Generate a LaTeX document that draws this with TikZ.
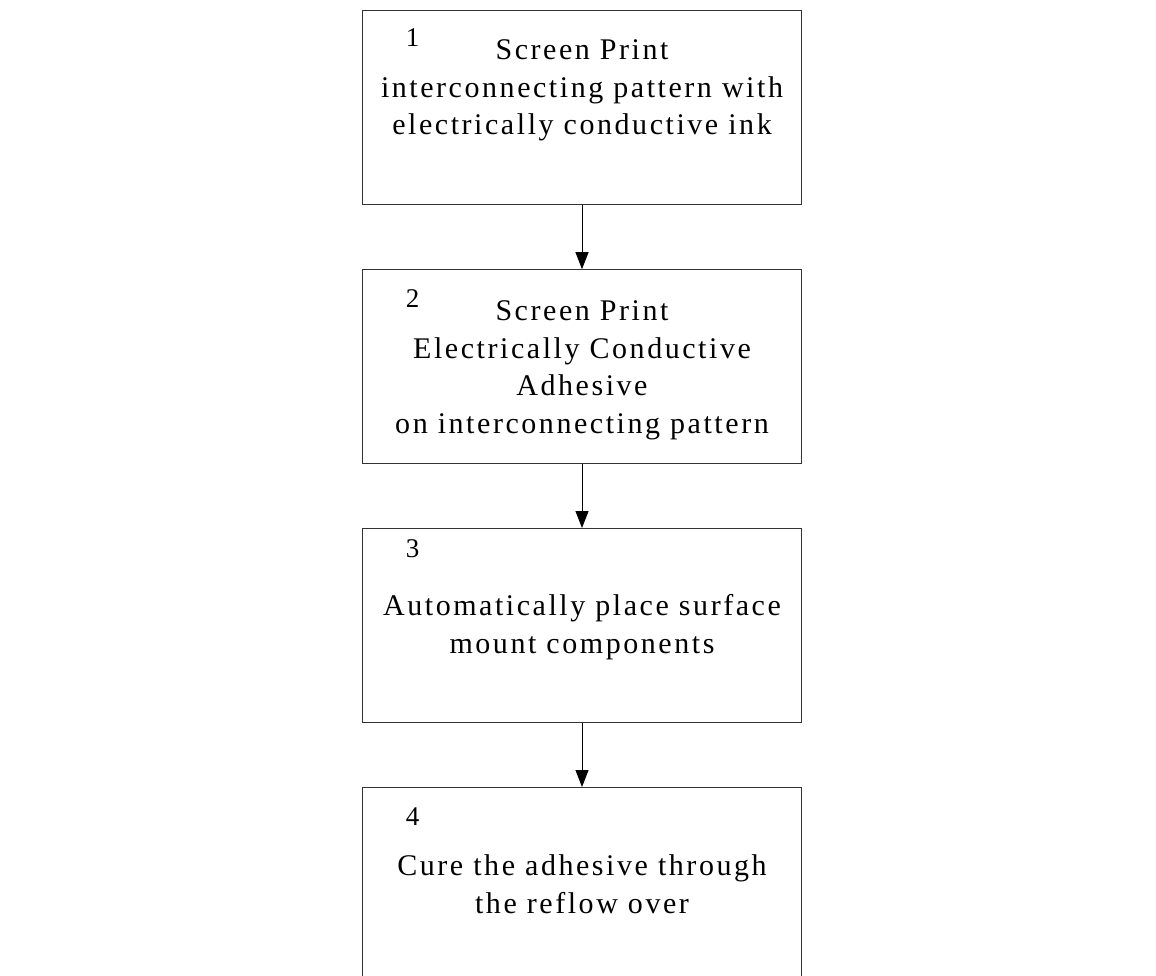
\documentclass[tikz,border=0pt]{standalone}
\usepackage{fontspec}
\setmainfont{Liberation Serif}[LetterSpace=8.5]
\usetikzlibrary{arrows.meta}
\tikzset{
  stepbox/.style={draw=black!80, line width=1pt, minimum width=439pt,
    minimum height=194pt, inner sep=0pt},
  steptext/.style={anchor=base, align=center, inner sep=0pt,
    font=\fontsize{30}{37.5}\selectfont},
  stepnum/.style={anchor=base, inner sep=0pt,
    font=\fontsize{27}{37.5}\selectfont},
  flow/.style={line width=1pt, -{Triangle[length=17pt,width=13pt]}}
}

\begin{document}
\begin{tikzpicture}[x=1pt,y=-1pt]
        \clip (0,0) rectangle (1156,976);
        \coordinate (P1) at (582,107.5);
        \coordinate (P2) at (582,366.7);
        \coordinate (P3) at (582,625.5);
        \coordinate (P4) at (582,884.5);

        \node[stepbox] (B1) at (P1) {};
        \node[stepbox] (B2) at (P2) {};
        \node[stepbox] (B3) at (P3) {};
        \node[stepbox] (B4) at (P4) {};

        \draw[flow] (B1) -- (B2);
        \draw[flow] (B2) -- (B3);
        \draw[flow] (B3) -- (B4);

        \node[stepnum] (N1) at (412.7,47) {1};
        \node[stepnum] (N2) at (412.7,307) {2};
        \node[stepnum] (N3) at (412.7,557) {3};
        \node[stepnum] (N4) at (412.7,825) {4};

        % base = last line of each block
        \node[steptext] (T1) at (582,135) {Screen Print\\interconnecting pattern with\\electrically conductive ink};
        \node[steptext] (T2) at (582,433) {Screen Print\\Electrically Conductive\\Adhesive\\on interconnecting pattern};
        \node[steptext] (T3) at (582,653) {Automatically place surface\\mount components};
        \node[steptext] (T4) at (582,913) {Cure the adhesive through\\the reflow over};
    \end{tikzpicture}
\end{document}
